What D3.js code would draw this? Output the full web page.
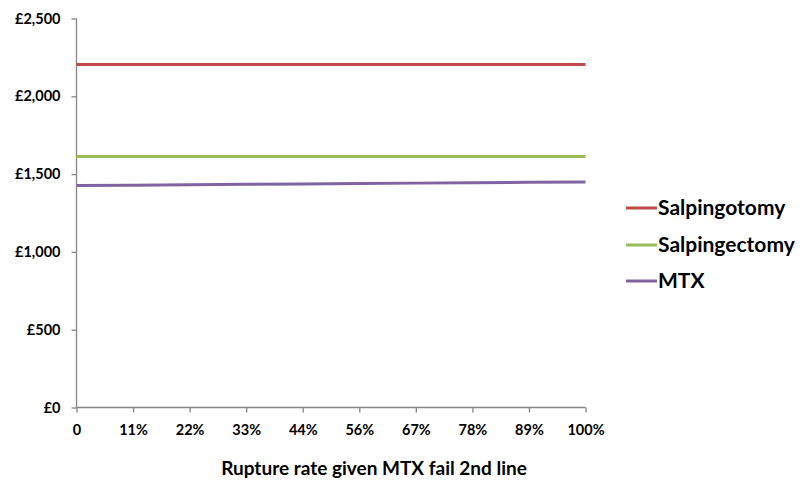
<!DOCTYPE html>
<html><head><meta charset="utf-8">
<script src="https://cdn.jsdelivr.net/npm/d3@7"></script>
<style>body{margin:0;background:#fff}svg{display:block}text{font-family:Lato,"Open Sans",sans-serif;font-weight:bold;fill:#000}</style>
</head><body><svg id="c" width="803" height="484"></svg>
<script>
const categories = ["0","11%","22%","33%","44%","56%","67%","78%","89%","100%"];
const salpingotomy = [2205,2205,2205,2205,2205,2205,2205,2205,2205,2205];
const salpingectomy = [1613,1613,1613,1613,1613,1613,1613,1613,1613,1613];
const mtx = [1427,1429,1432,1435,1437,1440,1442,1445,1447,1450];
const yTicks = [0,500,1000,1500,2000,2500];
const seriesNames = ["Salpingotomy","Salpingectomy","MTX"];
const colors = ["#BE4B48","#9BBB59","#8064A2"];

const svg = d3.select("#c");
const x = d3.scalePoint().domain(categories).range([76.5,585.5]);
const y = d3.scaleLinear().domain([0,2500]).range([407.5,18.5]);

const yAxis = svg.append("g").attr("transform","translate(76.5,0)")
  .call(d3.axisLeft(y).tickValues(yTicks).tickSize(5).tickPadding(11)
    .tickFormat(d=>"£"+d3.format(",")(d)));
const xAxis = svg.append("g").attr("transform","translate(0,407.5)")
  .call(d3.axisBottom(x).tickSize(5).tickPadding(12));
[yAxis,xAxis].forEach(a=>{
  a.select(".domain").attr("stroke","#868686").attr("stroke-width",1.3);
  a.selectAll(".tick line").attr("stroke","#868686").attr("stroke-width",1.3);
  a.selectAll("text").style("font-size","14.5px").style("font-family","Lato, sans-serif").style("font-weight","bold").attr("fill","#000");
});
xAxis.select(".domain").attr("d","M76.5,0H585.5");
yAxis.select(".domain").attr("d","M0,18.5V407.5");

const line = d3.line().x((d,i)=>x(categories[i])).y(d=>y(d));
[salpingotomy,salpingectomy,mtx].forEach((s,i)=>{
  svg.append("path").attr("d",line(s)).attr("fill","none")
    .attr("stroke",colors[i]).attr("stroke-width",3);
});

const legY = [208,245,281];
seriesNames.forEach((n,i)=>{
  svg.append("line").attr("x1",626).attr("x2",657).attr("y1",legY[i]).attr("y2",legY[i])
    .attr("stroke",colors[i]).attr("stroke-width",3);
  svg.append("text").attr("x",658).attr("y",legY[i]).attr("dy","0.35em")
    .style("font-size","21px").text(n);
});

svg.append("text").attr("x",374).attr("y",468).attr("text-anchor","middle")
  .attr("dy","0.35em").style("font-size","19px").text("Rupture rate given MTX fail 2nd line");
</script></body></html>
